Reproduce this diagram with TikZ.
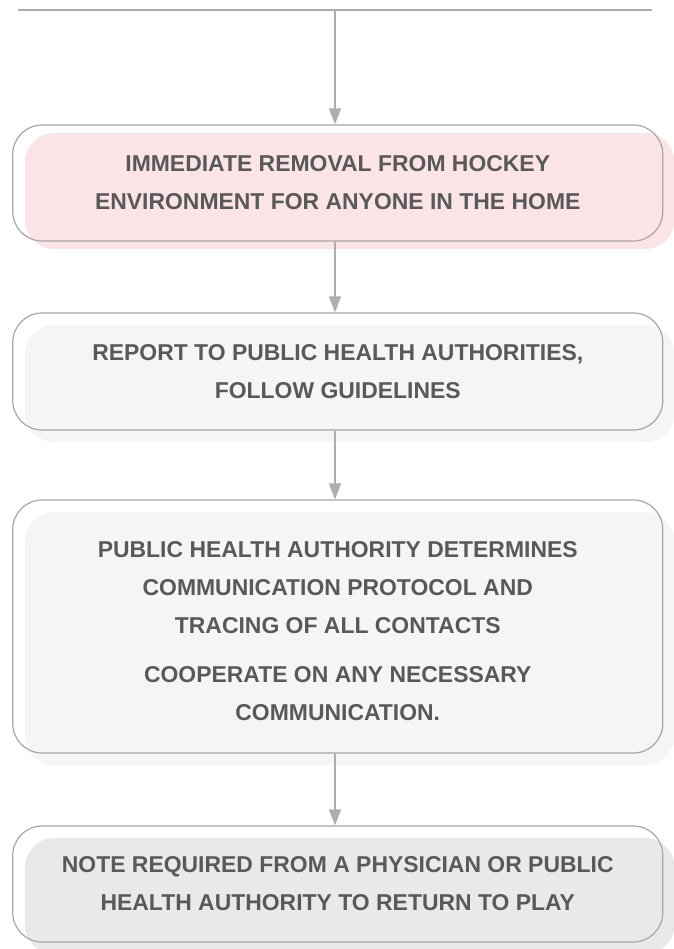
\documentclass[tikz,border=0pt]{standalone}
\usepackage{fontspec}
\setmainfont{Liberation Sans}
\usetikzlibrary{arrows.meta,calc}
\definecolor{edge}{HTML}{A6A6A6}
\definecolor{link}{HTML}{ADADAD}
\definecolor{txt}{HTML}{595959}
\definecolor{pinkfill}{HTML}{FAE4E5}
\definecolor{lightfill}{HTML}{F5F5F5}
\definecolor{greyfill}{HTML}{E9E9E9}
\tikzset{
  stepbox/.style={draw=edge, line width=0.9pt, rounded corners=22pt, minimum width=487.5pt,
    inner sep=0pt},
  steptext/.style={align=center, text=txt, font=\bfseries\fontsize{17.2pt}{28.5pt}\selectfont, inner sep=0pt},
  shade/.style={rounded corners=22pt},
  link/.style={draw=link, line width=0.9pt, -{Triangle[length=12pt,width=9pt]}},
}
\begin{document}
\begin{tikzpicture}[x=0.75pt,y=-0.75pt]
\useasboundingbox (0,0) rectangle (674,949);
% shadow fills
\fill[pinkfill, shade] (25,133) rectangle (674.5,249);
\fill[lightfill, shade] (25,325) rectangle (674.5,442);
\fill[lightfill, shade] (25,512) rectangle (674.5,765);
\fill[greyfill, shade] (25,838) rectangle (674.5,954);
% boxes
\node[stepbox, minimum height=87pt] (b1) at (337.75,183) {};
\node[steptext] (t1) at (b1.center)
  {IMMEDIATE REMOVAL FROM HOCKEY\\ENVIRONMENT FOR ANYONE IN THE HOME};
\node[stepbox, minimum height=87.75pt] (b2) at (337.75,371.5) {};
\node[steptext] (t2) at (b2.center)
  {REPORT TO PUBLIC HEALTH AUTHORITIES,\\FOLLOW GUIDELINES};
\node[stepbox, minimum height=189.75pt] (b3) at (337.75,626.5) {};
\node[steptext, yshift=-3.6pt] (t3) at (b3.center)
  {PUBLIC HEALTH AUTHORITY DETERMINES\\COMMUNICATION PROTOCOL AND\\TRACING OF ALL CONTACTS\\[8.6pt]COOPERATE ON ANY NECESSARY\\COMMUNICATION.};
\node[stepbox, minimum height=87pt] (b4) at (337.75,884) {};
\node[steptext] (t4) at (b4.center)
  {NOTE REQUIRED FROM A PHYSICIAN OR PUBLIC\\HEALTH AUTHORITY TO RETURN TO PLAY};
% connectors
\coordinate (tl) at (18,10);
\coordinate (tr) at (652,10);
\coordinate (tm) at (335,10);
\draw[draw=link, line width=0.9pt] (tl) -- (tr);
\draw[link] (tm) -- (tm |- b1.north);
\draw[link] (b1.south -| tm) -- (b2.north -| tm);
\draw[link] (b2.south -| tm) -- (b3.north -| tm);
\draw[link] (b3.south -| tm) -- (b4.north -| tm);
\end{tikzpicture}
\end{document}
